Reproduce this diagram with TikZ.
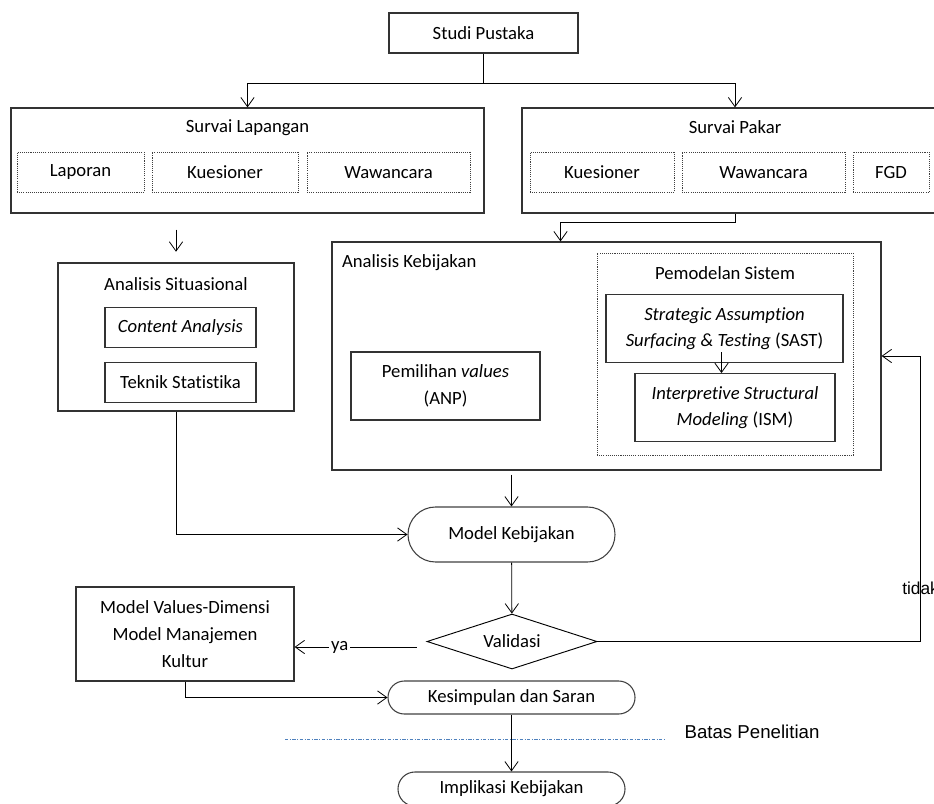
\documentclass[tikz,border=0pt]{standalone}
\usepackage{fontspec}
\setmainfont{Carlito}[Ligatures=NoCommon]
\newfontfamily\arialfont{Liberation Sans}
\usetikzlibrary{calc,positioning,shapes.geometric,arrows.meta}

\begin{document}
\begin{tikzpicture}[
  x=0.75pt, y=-0.75pt,
  font=\fontsize{14pt}{20pt}\selectfont,
  flow arrow/.style={
    arrows = {-{Straight Barb[length=7pt,width=10pt]}},
    line width=0.6pt
  },
  box/.style={
      rectangle,
      draw=black!80,
      line width=0.9pt,
      inner sep=0pt,
      align=center
    },
  item/.style={
      rectangle,
      draw=black!75,
      line width=0.5pt,
      dash pattern=on 0.8pt off 0.8pt,
      inner sep=0pt,
      minimum height=30pt,
      align=center
    },
  sub box/.style={
      box,
      minimum height=51pt
    },
  terminal/.style={
      rectangle,
      draw=black!75,
      line width=0.8pt,
      inner sep=0pt
    },
  decision/.style={
      diamond,
      aspect=3,
      draw=black,
      line width=0.7pt,
      inner sep=0pt,
      minimum width=127.5pt,
      minimum height=41.25pt
    },
  batas/.style={
      draw={rgb,255:red,79; green,129; blue,189},
      line width=0.7pt,
      dash pattern=on 2.5pt off 1.2pt on 0.6pt off 1.2pt
    }]
  \useasboundingbox (0,0) rectangle (934,803);

  \node [box, minimum width=141.75pt, minimum height=30pt] (studi) at (483.5,33) {Studi Pustaka};

  % survai lapangan
  \begin{scope}
    \node [box, minimum width=354.75pt, minimum height=78.75pt] (lapangan) at (247.5,160.5) {};
    \node (lapangan-title) at ($(lapangan.north) + (0,20)$) {Survai Lapangan};
    \node [item, minimum width=95.25pt] (laporan) at ($(lapangan.north) + (-167,65)$) {Laporan};
    \node [item, minimum width=109.5pt] (kuesioner-a) at ($(lapangan.north) + (-22.5,65)$) {Kuesioner};
    \node [item, minimum width=122.25pt] (wawancara-a) at ($(lapangan.north) + (141,65)$) {Wawancara};
  \end{scope}

  % survai pakar
  \begin{scope}
    \node [box, minimum width=319.5pt, minimum height=78.75pt] (pakar) at (735,160.5) {};
    \node (pakar-title) at ($(pakar.north) + (0,20)$) {Survai Pakar};
    \node [item, minimum width=108pt] (kuesioner-b) at ($(pakar.north) + (-133,65)$) {Kuesioner};
    \node [item, minimum width=122.25pt] (wawancara-b) at ($(pakar.north) + (28.5,65)$) {Wawancara};
    \node [item, minimum width=57pt] (fgd) at ($(pakar.north) + (156,65)$) {FGD};
  \end{scope}

  \coordinate (split) at ($(studi.south) + (0,30)$);
  \draw [line width=0.6pt] (studi.south) -- (split);
  \draw [flow arrow] (split) -| (lapangan.north);
  \draw [flow arrow] (split) -| (pakar.north);

  % analisis situasional
  \begin{scope}
    \node [box, minimum width=177pt, minimum height=111pt] (situasional) at (176,337) {};
    \node (situasional-title) at ($(situasional.north) + (0,22)$) {Analisis Situasional};
    \node [sub box, minimum width=113.25pt, minimum height=30pt] (content) at ($(situasional.north) + (4.5,65)$) {\textit{Content Analysis}};
    \node [sub box, minimum width=113.25pt, minimum height=30pt] (teknik) at ($(situasional.north) + (4.5,120)$) {Teknik Statistika};
  \end{scope}

  % analisis kebijakan
  \begin{scope}
    \node [box, minimum width=411.75pt, minimum height=171pt] (kebijakan) at (606.5,356) {};
    \node [anchor=west] (kebijakan-title) at ($(kebijakan.north west) + (6,21)$) {Analisis Kebijakan};
    \node [item, minimum width=192pt, minimum height=151.5pt] (pemodelan) at (725,354) {};
    \node (pemodelan-title) at ($(pemodelan.north) + (0,20)$) {Pemodelan Sistem};
    \node [sub box, minimum width=177.75pt] (sast) at ($(pemodelan.north) + (-0.5,76)$) {\textit{Strategic Assumption}\\\textit{Surfacing \& Testing} (SAST)};
    \node [sub box, minimum width=150pt] (ism) at ($(pemodelan.north) + (10,155)$) {\textit{Interpretive Structural}\\\textit{Modeling} (ISM)};
    \node [sub box, minimum width=141.75pt] (pemilihan) at (445.5,386) {Pemilihan \textit{values}\\(ANP)};
  \end{scope}

  \draw [flow arrow] ($(sast.south) + (-3,-11)$) -- ($(sast.south |- ism.north) + (-3,0)$);
  \draw [flow arrow, shorten <=12pt, shorten >=8pt] (situasional.north |- lapangan.south) -- (situasional.north);
  \draw [flow arrow] (pakar.south) -- ++(0,9) -| ($(kebijakan.north) + (-46,0)$);

  \node [terminal, minimum width=155.25pt, minimum height=41.25pt, rounded corners=20.6pt] (model) at (511.5,534.5) {Model Kebijakan};
  \node [decision] (validasi) at (512,641.5) {Validasi};
  \node [box, minimum width=163.5pt, minimum height=70.5pt] (values) at (185,634) {Model Values-Dimensi\\Model Manajemen\\Kultur};
  \node [terminal, minimum width=185.25pt, minimum height=24.75pt, rounded corners=12.3pt] (kes) at (511.5,697.5) {Kesimpulan dan Saran};
  \node [terminal, minimum width=170.25pt, minimum height=25.5pt, rounded corners=12.7pt] (implikasi) at (511.5,789) {Implikasi Kebijakan};

  \draw [flow arrow, shorten <=3pt] (model.north |- kebijakan.south) -- (model.north);
  \draw [flow arrow] (situasional.south) |- (model.west);
  \draw [flow arrow] (model) -- (validasi);

  \coordinate (ya-start) at ($(validasi.west) + (-10,5.5)$);
  \draw [flow arrow] (ya-start) -- node [pos=0.63, fill=white, inner sep=1.5pt] (ya) {ya} (values.east |- ya-start);
  \draw [flow arrow] (values.south) |- (kes.west);
  \draw [flow arrow] (kes) -- (implikasi);

  \draw [flow arrow] (validasi.east) -| ($(kebijakan.east) + (39,0)$) -- (kebijakan.east);
  \node [anchor=west, inner sep=0pt, font=\arialfont\fontsize{13pt}{15pt}\selectfont] (tidak) at (902,588) {tidak};

  % batas penelitian
  \coordinate (batas-a) at (285,739);
  \coordinate (batas-b) at (664,739);
  \draw [batas] (batas-a) -- (batas-b);
  \node [font=\arialfont\fontsize{14pt}{16pt}\selectfont] (batas) at (752,732) {Batas Penelitian};
\end{tikzpicture}
\end{document}
